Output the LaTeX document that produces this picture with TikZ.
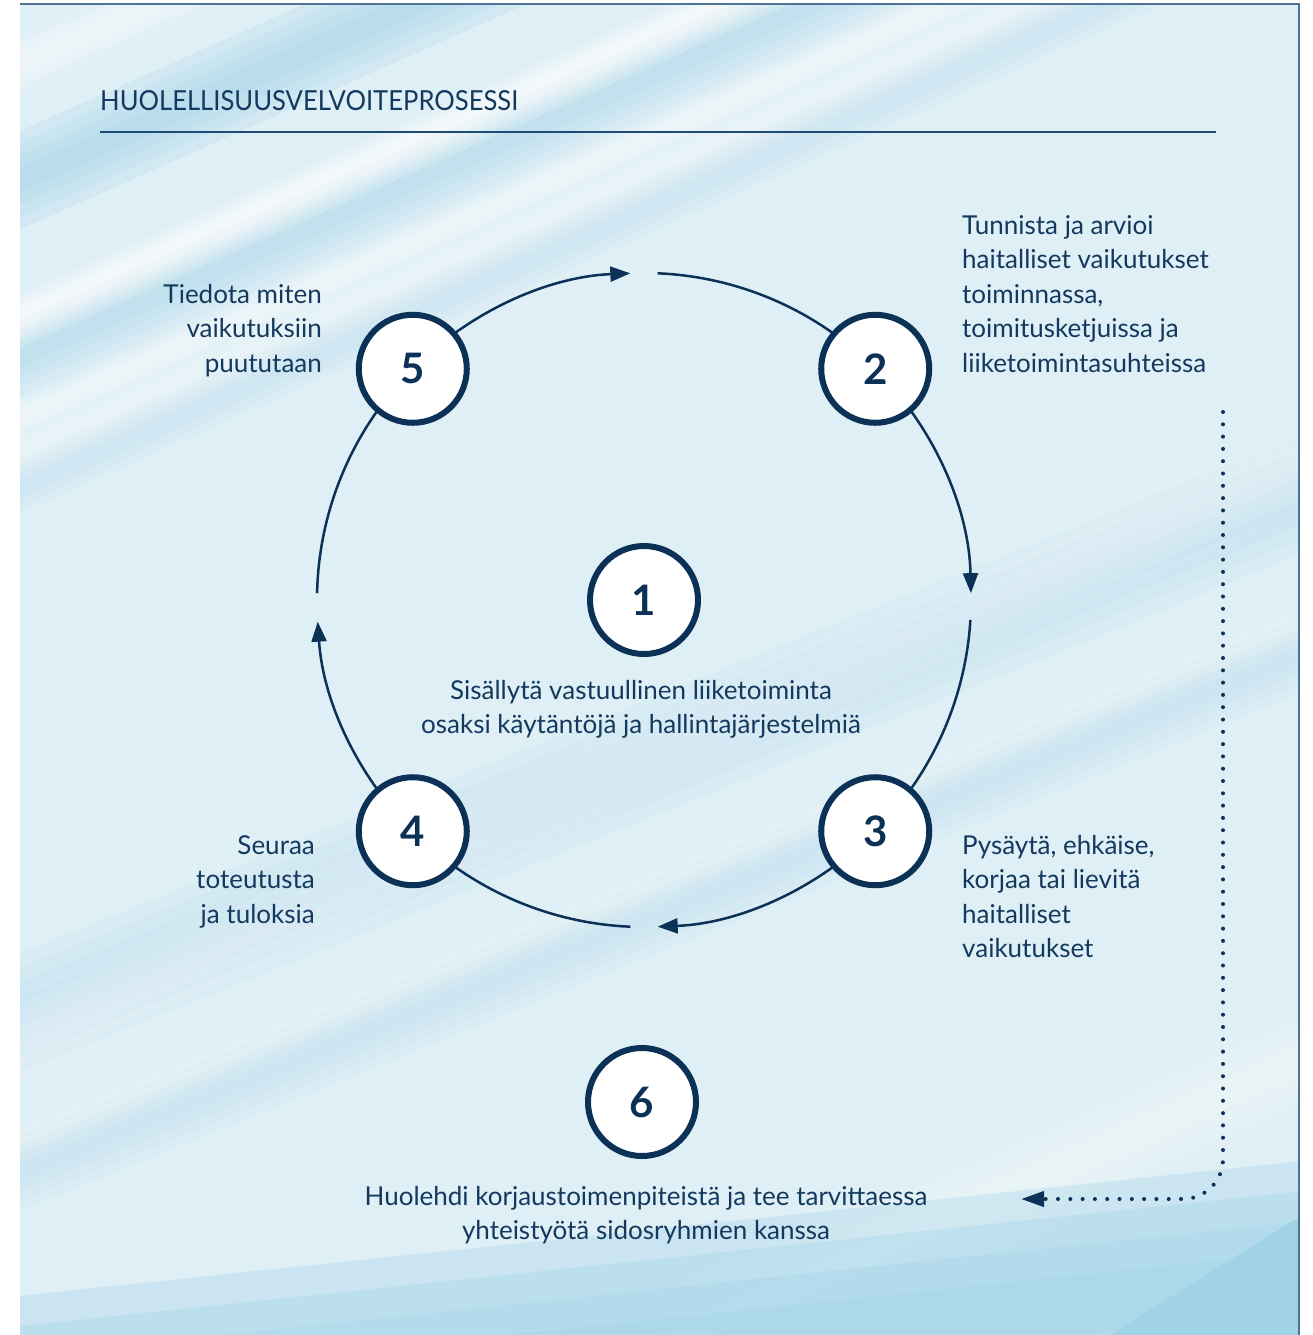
\documentclass[tikz,border=0pt]{standalone}
\usepackage{fontspec}
\usepackage{graphicx}
\setmainfont{Lato}
\usetikzlibrary{arrows.meta}
\definecolor{navy}{HTML}{0B3157}
\definecolor{txt}{HTML}{14395E}
\definecolor{bgbase}{HTML}{DFEFF6}
\definecolor{bandblue}{HTML}{A0D3E8}
\definecolor{framec}{HTML}{4F7394}
\definecolor{rulec}{HTML}{1F4C75}

\tikzset{
  num/.style={circle, draw=navy, line width=6pt, fill=white, minimum size=108pt, inner sep=0pt,
    font=\fontsize{42}{42}\selectfont\bfseries, text=navy},
  lbl/.style={inner sep=0pt, text=txt, font=\fontsize{26}{34.5}\selectfont},
  ring/.style={draw=navy, line width=2.5pt},
  ringarr/.style={ring, -{Triangle[length=20pt,width=15pt]}},
  dots/.style={draw=navy, line width=4pt, line cap=round, dash pattern=on 0pt off 12.3pt},
}

\newcommand\myband[6]{% x y halfwidth color opacity angle
  \pgfmathsetmacro\myop{#5/4}
  \foreach \k in {1,...,4}{
    \fill[#4, opacity=\myop, rotate around={#6:(#1,-#2)}]
      (#1-1800,-#2-#3*\k/4) rectangle (#1+1800,-#2+#3*\k/4);
  }}

\begin{document}
\begin{tikzpicture}[x=1pt,y=1pt]
\useasboundingbox (0,0) rectangle (1313,-1335);
% background
\begin{scope}
  \clip (20,-4) rectangle (1299,-1335);
  \fill[bgbase] (20,-4) rectangle (1299,-1335);
  \myband{200}{100}{45}{bandblue}{0.8}{24}
  \myband{120}{20}{25}{white}{0.6}{24}
  \myband{250}{215}{22}{white}{0.7}{24}
  \myband{150}{300}{35}{bandblue}{0.55}{24}
  \myband{80}{390}{14}{white}{0.6}{24}
  \myband{100}{450}{25}{bandblue}{0.3}{24}
  \myband{700}{20}{22}{white}{0.5}{24}
  \myband{900}{60}{30}{white}{0.35}{24}
  \myband{150}{960}{55}{bandblue}{0.4}{22}
  \myband{300}{1030}{15}{white}{0.4}{22}
  \myband{200}{1100}{35}{bandblue}{0.3}{22}
  \myband{1000}{600}{40}{white}{0.35}{24}
  \myband{1100}{1150}{50}{white}{0.4}{24}
  \myband{700}{1345}{120}{bandblue}{1.3}{6}
  \fill[bandblue, opacity=0.9] (1110,-1335) -- (1299,-1217) -- (1299,-1335) -- cycle;
\end{scope}
\draw[framec, line width=1.5pt] (20,-4) -- (1299,-4) -- (1299,-1335);

% title
\node[anchor=base west, inner sep=0pt, text=txt] (title) at (100,-111)
  {\resizebox{418pt}{20pt}{HUOLELLISUUSVELVOITEPROSESSI}};
\coordinate (r0) at (100,-132);
\coordinate (r1) at (1216,-132);
\draw[rulec, line width=1.5pt] (r0) -- (r1);

% ring
\coordinate (C) at (644,-600);
\path (C) ++(135:327) coordinate (p5);
\path (C) ++(45:327) coordinate (p2);
\path (C) ++(-45:327) coordinate (p3);
\path (C) ++(225:327) coordinate (p4);
\path (C) ++(87.6:327) coordinate (g2);
\path (C) ++(-3.5:327) coordinate (g3);
\path (C) ++(-92.4:327) coordinate (g4);
\path (C) ++(178.8:327) coordinate (g5);

\draw[ringarr] (p5) arc[start angle=135, end angle=92.4, radius=327];
\draw[ring] (g2) arc[start angle=87.6, end angle=45, radius=327];
\draw[ringarr] (p2) arc[start angle=45, end angle=1.2, radius=327];
\draw[ring] (g3) arc[start angle=-3.5, end angle=-45, radius=327];
\draw[ringarr] (p3) arc[start angle=-45, end angle=-87.6, radius=327];
\draw[ring] (g4) arc[start angle=-92.4, end angle=-135, radius=327];
\draw[ringarr] (p4) arc[start angle=225, end angle=183.8, radius=327];
\draw[ring] (g5) arc[start angle=178.8, end angle=135, radius=327];

\node[num] (n5) at (p5) {5};
\node[num] (n2) at (p2) {2};
\node[num] (n3) at (p3) {3};
\node[num] (n4) at (p4) {4};
\node[num] (n1) at (644,-600) {1};
\node[num] (n6) at (642,-1102) {6};

% labels
\node[lbl, anchor=north west, align=left] (t2) at (962,-210)
  {\strut Tunnista ja arvioi\\haitalliset vaikutukset\\toiminnassa,\\toimitusketjuissa ja\\liiketoimintasuhteissa};
\node[lbl, anchor=north east, align=right] (t5) at (322,-279)
  {\strut Tiedota miten\\vaikutuksiin\\puututaan};
\node[lbl, anchor=north east, align=right] (t4) at (315,-830)
  {\strut Seuraa\\toteutusta\\ja tuloksia};
\node[lbl, anchor=north west, align=left] (t3) at (962,-830)
  {\strut Pysäytä, ehkäise,\\korjaa tai lievitä\\haitalliset\\vaikutukset};
\node[lbl, anchor=north, align=center] (t1) at (641,-675)
  {\strut Sisällytä vastuullinen liiketoiminta\\osaksi käytäntöjä ja hallintajärjestelmiä};
\node[lbl, anchor=north, align=center] (t6) at (646,-1181)
  {\strut Huolehdi korjaustoimenpiteistä ja tee tarvittaessa\\yhteistyötä sidosryhmien kanssa};

% dotted feedback arrow
\coordinate (d0) at (1223,-412);
\coordinate (d1) at (1021,-1199);
\draw[dots, rounded corners=40pt, -{Triangle[length=23pt,width=15pt]}] (d0) |- (d1);
\end{tikzpicture}
\end{document}
